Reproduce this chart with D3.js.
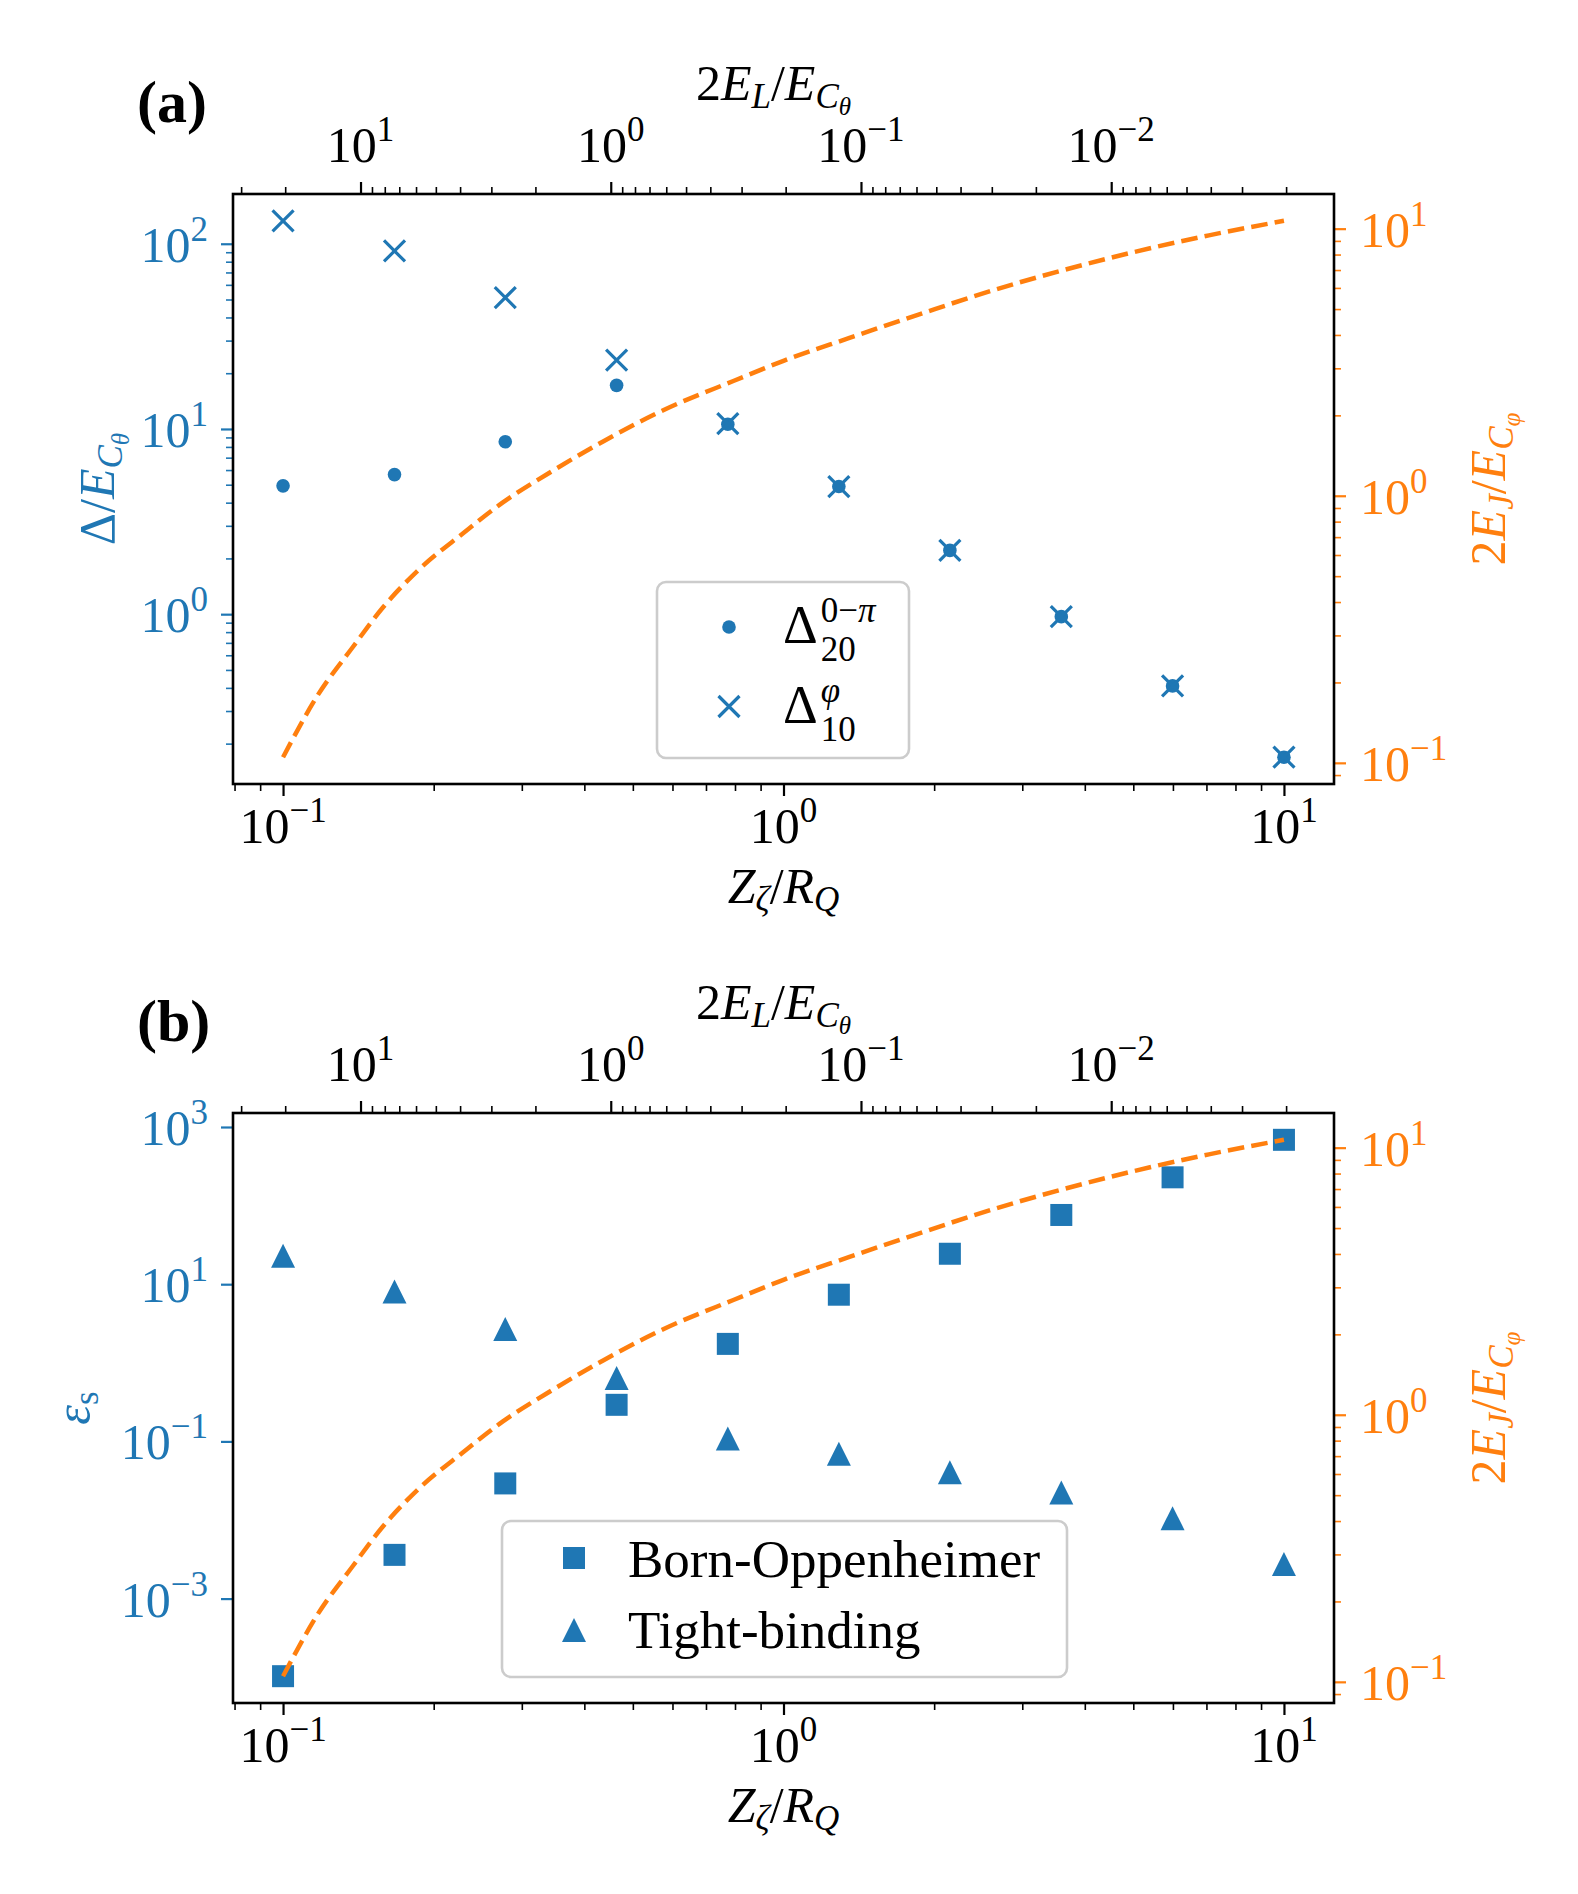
<!DOCTYPE html>
<html><head><meta charset="utf-8">
<script src="https://cdn.jsdelivr.net/npm/d3@7"></script>
<style>
body{margin:0;background:#fff}
svg{display:block}
text{font-family:"Liberation Serif","Times New Roman",serif}
</style>
</head><body>
<svg id="c" width="1578" height="1894"></svg>
<script>
// ---------------- data ----------------
const Z = [0.1, 0.167, 0.278, 0.464, 0.774, 1.29, 2.15, 3.59, 5.99, 10.0];
const delta20 = [4.93, 5.67, 8.53, 17.2, 10.6, 4.89, 2.21, 0.97, 0.41, 0.169];
const delta10 = [133, 91.4, 51.2, 23.5, 10.7, 4.89, 2.21, 0.97, 0.41, 0.169];
const bornOpp = [1.03e-4, 3.6e-3, 0.0292, 0.292, 1.74, 7.35, 24.4, 76, 229, 687];
const tightBinding = [23.0, 8.07, 2.69, 0.641, 0.109, 0.0694, 0.0405, 0.0224, 0.01056, 0.00275];
const curveZ  = [0.1, 0.1175, 0.138, 0.158, 0.186, 0.229, 0.275, 0.347, 0.437, 0.575, 0.794, 1.0, 1.35, 1.905, 2.63, 3.63, 5.01, 7.08, 10.0];
const curveEJ = [0.105, 0.180, 0.272, 0.380, 0.525, 0.724, 0.944, 1.245, 1.60, 2.09, 2.69, 3.20, 3.89, 4.84, 5.89, 7.0, 8.17, 9.44, 10.7];
const bottomTicks = [0.1, 1, 10];
const topTicks = [10, 1, 0.1, 0.01];
const leftTicksA = [1, 10, 100];
const leftTicksB = [1e-3, 1e-1, 1e1, 1e3];
const rightTicks = [0.1, 1, 10];
const EL_K = 0.204; // top axis: 2E_L/E_Cθ = EL_K / Z^2

// ---------------- style ----------------
const BLUE = '#1f77b4', ORANGE = '#ff7f0e';
const F = 50;
const L = 233, R = 1334;
const panels = [{top: 194, bottom: 784}, {top: 1113, bottom: 1703}];
const svg = d3.select('#c');

const LV = {b: {off: 0, size: 1}, sub: {off: 0.16, size: 0.7}, sup: {off: -0.42, size: 0.7}, ss: {off: 0.29, size: 0.5}};
function addMath(g, x, y, segs, opts = {}) {
  const t = g.append('text').attr('x', x).attr('y', y).attr('font-size', F)
    .attr('fill', opts.color || '#000').attr('text-anchor', opts.anchor || 'start');
  let cur = 0;
  segs.forEach(s => {
    const lv = LV[s.l || 'b'];
    const off = lv.off * F;
    t.append('tspan').attr('dy', off - cur).attr('font-size', lv.size * F)
      .attr('font-style', s.i ? 'italic' : 'normal').text(s.t);
    cur = off;
  });
  return t;
}
function expStr(v) { const e = Math.round(Math.log10(v)); return e < 0 ? '\u2212' + (-e) : '' + e; }
function powLabel(g, x, y, v, anchor, color) {
  return addMath(g, x, y, [{t: '10'}, {t: expStr(v), l: 'sup'}], {anchor, color});
}
function logPad(vals, frac = 0.05) {
  const lo = Math.log10(d3.min(vals)), hi = Math.log10(d3.max(vals));
  const m = (hi - lo) * frac;
  return [Math.pow(10, lo - m), Math.pow(10, hi + m)];
}
function minorTicks(scale) {
  const [a, b] = d3.extent(scale.domain());
  const out = [];
  for (let e = Math.floor(Math.log10(a)); e <= Math.floor(Math.log10(b)); e++)
    for (let m = 2; m <= 9; m++) { const v = m * Math.pow(10, e); if (v >= a && v <= b) out.push(v); }
  return out;
}
function drawAxis(axisFn, scale, majors, minors, tx, ty, color) {
  const g1 = svg.append('g').attr('transform', `translate(${tx},${ty})`).attr('color', color)
    .call(axisFn(scale).tickValues(minors).tickSize(7).tickFormat(''));
  g1.select('.domain').remove(); g1.selectAll('line').attr('stroke-width', 1.6);
  const g2 = svg.append('g').attr('transform', `translate(${tx},${ty})`).attr('color', color)
    .call(axisFn(scale).tickValues(majors).tickSize(12).tickFormat(''));
  g2.select('.domain').remove(); g2.selectAll('line').attr('stroke-width', 2.2);
}

const x = d3.scaleLog().domain(logPad(Z)).range([L, R]);
const xTop = d3.scaleLog().domain(x.domain().map(z => EL_K / (z * z))).range([L, R]);

function panel(p, yLeftVals, leftMajors, leftMinorOn, yLabelSegs, yLabelX, tag) {
  const {top, bottom} = p;
  const yL = d3.scaleLog().domain(logPad(yLeftVals)).range([bottom, top]);
  const yR = d3.scaleLog().domain(logPad(curveEJ)).range([bottom, top]);
  const g = svg.append('g');

  drawAxis(d3.axisBottom, x, bottomTicks, minorTicks(x), 0, bottom, '#000');
  drawAxis(d3.axisTop, xTop, topTicks, minorTicks(xTop), 0, top, '#000');
  drawAxis(d3.axisLeft, yL, leftMajors, leftMinorOn ? minorTicks(yL) : [], L, 0, BLUE);
  drawAxis(d3.axisRight, yR, rightTicks, minorTicks(yR), R, 0, ORANGE);

  bottomTicks.forEach(v => powLabel(g, x(v), bottom + 59, v, 'middle', '#000'));
  topTicks.forEach(v => powLabel(g, xTop(v), top - 32, v, 'middle', '#000'));
  leftMajors.forEach(v => powLabel(g, 208, yL(v) + 18, v, 'end', BLUE));
  rightTicks.forEach(v => powLabel(g, 1360, yR(v) + 18, v, 'start', ORANGE));

  addMath(g, (L + R) / 2, bottom + 119,
    [{t: 'Z', i: 1}, {t: '\u03B6', l: 'sub', i: 1}, {t: '/'}, {t: 'R', i: 1}, {t: 'Q', l: 'sub', i: 1}], {anchor: 'middle'});
  addMath(g, (L + R) / 2 - 10, top - 94,
    [{t: '2'}, {t: 'E', i: 1}, {t: 'L', l: 'sub', i: 1}, {t: '/'}, {t: 'E', i: 1}, {t: 'C', l: 'sub', i: 1}, {t: '\u03B8', l: 'ss', i: 1}], {anchor: 'middle'});
  const cy = (top + bottom) / 2;
  addMath(g.append('g').attr('transform', `translate(${yLabelX},${cy}) rotate(-90)`), 0, 0, yLabelSegs, {anchor: 'middle', color: BLUE});
  addMath(g.append('g').attr('transform', `translate(1505,${cy}) rotate(-90)`), 0, 0,
    [{t: '2'}, {t: 'E', i: 1}, {t: 'J', l: 'sub', i: 1}, {t: '/'}, {t: 'E', i: 1}, {t: 'C', l: 'sub', i: 1}, {t: '\u03C6', l: 'ss', i: 1}], {anchor: 'middle', color: ORANGE});

  g.append('text').attr('x', 137).attr('y', top - 72).attr('font-size', 60).attr('font-weight', 'bold').text(tag);

  return {yL, yR, g};
}

const crossPath = 'M-10.5,-10.5L10.5,10.5M-10.5,10.5L10.5,-10.5';
const triPath = 'M0,-12L12,12L-12,12Z';

// ---------------- panel (a) ----------------
const A = panel(panels[0], delta20.concat(delta10), leftTicksA, true,
  [{t: '\u0394'}, {t: '/'}, {t: 'E', i: 1}, {t: 'C', l: 'sub', i: 1}, {t: '\u03B8', l: 'ss', i: 1}], 114, '(a)');
A.g.selectAll('circle.d20').data(Z).join('circle').attr('class', 'd20')
  .attr('cx', d => x(d)).attr('cy', (d, i) => A.yL(delta20[i])).attr('r', 6.8).attr('fill', BLUE);
A.g.selectAll('path.d10').data(Z).join('path').attr('class', 'd10')
  .attr('transform', (d, i) => `translate(${x(d)},${A.yL(delta10[i])})`).attr('d', crossPath)
  .attr('stroke', BLUE).attr('stroke-width', 3.2).attr('fill', 'none');

// legend (a)
{
  const lg = A.g.append('g');
  lg.append('rect').attr('x', 657).attr('y', 582).attr('width', 252).attr('height', 176).attr('rx', 9)
    .attr('fill', 'white').attr('fill-opacity', 0.8).attr('stroke', '#cccccc').attr('stroke-width', 2.6);
  lg.append('circle').attr('cx', 729).attr('cy', 627).attr('r', 6.8).attr('fill', BLUE);
  lg.append('path').attr('transform', 'translate(729,706.5)').attr('d', crossPath)
    .attr('stroke', BLUE).attr('stroke-width', 3.2).attr('fill', 'none');
  const rows = [{y: 643, sub: '20', sup: [{t: '0\u2212'}, {t: '\u03C0', i: 1}]}, {y: 723, sub: '10', sup: [{t: '\u03C6', i: 1}]}];
  rows.forEach(r => {
    const d = lg.append('text').attr('x', 783).attr('y', r.y).attr('font-size', 54).text('\u0394');
    const w = d.node().getComputedTextLength();
    lg.append('text').attr('x', 783 + w + 3).attr('y', r.y + 18).attr('font-size', 0.7 * F).text(r.sub);
    const s = lg.append('text').attr('x', 783 + w + 3).attr('y', r.y - 21).attr('font-size', 0.7 * F);
    r.sup.forEach(p => s.append('tspan').attr('font-style', p.i ? 'italic' : 'normal').text(p.t));
  });
}

const line = yR => d3.line().x(d => x(d[0])).y(d => yR(d[1])).curve(d3.curveMonotoneX);
const curvePts = curveZ.map((z, i) => [z, curveEJ[i]]);
A.g.append('path').datum(curvePts).attr('d', line(A.yR)).attr('fill', 'none')
  .attr('stroke', ORANGE).attr('stroke-width', 4.5).attr('stroke-dasharray', '16.6 7.2');

// ---------------- panel (b) ----------------
const B = panel(panels[1], bornOpp.concat(tightBinding), leftTicksB, false,
  [{t: '\u03B5', i: 1}, {t: 's', l: 'sub'}], 90, '(b)');
B.g.selectAll('rect.bo').data(Z).join('rect').attr('class', 'bo')
  .attr('x', d => x(d) - 11).attr('y', (d, i) => B.yL(bornOpp[i]) - 11).attr('width', 22).attr('height', 22).attr('fill', BLUE);
B.g.selectAll('path.tb').data(Z).join('path').attr('class', 'tb')
  .attr('transform', (d, i) => `translate(${x(d)},${B.yL(tightBinding[i])})`).attr('d', triPath).attr('fill', BLUE);

// legend (b)
{
  const lg = B.g.append('g');
  lg.append('rect').attr('x', 502).attr('y', 1521).attr('width', 565).attr('height', 156).attr('rx', 9)
    .attr('fill', 'white').attr('fill-opacity', 0.8).attr('stroke', '#cccccc').attr('stroke-width', 2.6);
  lg.append('rect').attr('x', 563).attr('y', 1547).attr('width', 22).attr('height', 22).attr('fill', BLUE);
  lg.append('path').attr('transform', 'translate(574,1630)').attr('d', triPath).attr('fill', BLUE);
  lg.append('text').attr('x', 628).attr('y', 1577).attr('font-size', 53).text('Born-Oppenheimer');
  lg.append('text').attr('x', 628).attr('y', 1648).attr('font-size', 53).text('Tight-binding');
}

B.g.append('path').datum(curvePts).attr('d', line(B.yR)).attr('fill', 'none')
  .attr('stroke', ORANGE).attr('stroke-width', 4.5).attr('stroke-dasharray', '16.6 7.2');

// spines
panels.forEach(p => svg.append('rect').attr('x', L).attr('y', p.top).attr('width', R - L).attr('height', p.bottom - p.top)
  .attr('fill', 'none').attr('stroke', '#000').attr('stroke-width', 2.6));
</script>
</body></html>
